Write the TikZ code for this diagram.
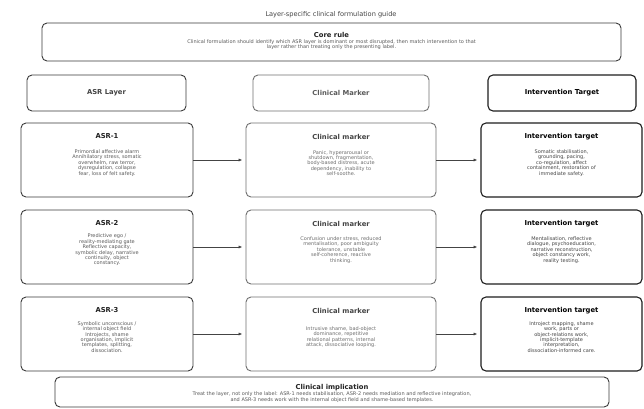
\documentclass[tikz,border=0pt]{standalone}
\usepackage{fontspec}
\setmainfont{DejaVu Sans}
\usetikzlibrary{arrows.meta,calc}

\definecolor{inkA}{HTML}{222222}
\definecolor{inkB}{HTML}{444444}
\definecolor{inkC}{HTML}{5A5A5A}
\definecolor{inkD}{HTML}{6E6E6E}
\definecolor{edgeA}{HTML}{3A3A3A}
\definecolor{edgeB}{HTML}{707070}
\definecolor{edgeC}{HTML}{1E1E1E}

\begin{document}
\begin{tikzpicture}[x=1pt,y=-1pt,
  panel/.style={draw=#1, rounded corners=5pt, line width=0.9pt,
    inner sep=0pt, outer sep=0pt},
  rowbox/.style={minimum height=74pt},
  headtext/.style={font=\fontsize{6.8}{8}\selectfont\bfseries, text=#1,
    inner sep=0pt},
  bodytext/.style={font=\fontsize{5}{5.4}\selectfont, text=#1,
    align=center, inner sep=0pt},
  conn/.style={draw=inkB, line width=0.9pt,
    -{Latex[length=4pt,width=3.2pt]}, shorten >=3.5pt}
]
\useasboundingbox (0,0) rectangle (644,408);
\fill[white] (0,0) rectangle (644,408);

% page title
\node[font=\fontsize{6.6}{8}\selectfont, text=inkB, inner sep=0pt]
  (title) at (331,15) {Layer-specific clinical formulation guide};

% core rule
\node[panel=edgeA, minimum width=579pt, minimum height=38pt] (core) at (331.5,42) {};
\node[headtext=inkA] (coreT) at ($(core.north)+(0,12)$) {Core rule};
\node[bodytext=inkC] (coreB) at ($(core.north)+(0,21.5)$)
  {Clinical formulation should identify which ASR layer is dominant or most disrupted, then match intervention to that\\
   layer rather than treating only the presenting label.};

% column headers
\node[panel=edgeA, minimum width=159pt, minimum height=36pt] (hAsr) at (106.5,93) {};
\node[panel=edgeB, minimum width=176pt, minimum height=36pt] (hCm) at (341,93) {};
\node[panel=edgeC, minimum width=148pt, minimum height=36pt, line width=1.1pt] (hIt) at (562,93) {};
\node[headtext=inkB] at (hAsr) {ASR Layer};
\node[headtext=inkC] at (hCm) {Clinical Marker};
\node[headtext=black] at (hIt) {Intervention Target};

% row 1
\node[panel=edgeA, rowbox, minimum width=172pt] (asr1) at (107,160) {};
\node[panel=edgeB, rowbox, minimum width=190pt] (cm1) at (341,160) {};
\node[panel=edgeC, rowbox, minimum width=161pt, line width=1.1pt] (it1) at (561.5,160) {};
% row 2
\node[panel=edgeA, rowbox, minimum width=172pt] (asr2) at (107,247) {};
\node[panel=edgeB, rowbox, minimum width=190pt] (cm2) at (341,247) {};
\node[panel=edgeC, rowbox, minimum width=161pt, line width=1.1pt] (it2) at (561.5,247) {};
% row 3
\node[panel=edgeA, rowbox, minimum width=172pt] (asr3) at (107,334) {};
\node[panel=edgeB, rowbox, minimum width=190pt] (cm3) at (341,334) {};
\node[panel=edgeC, rowbox, minimum width=161pt, line width=1.1pt] (it3) at (561.5,334) {};

% row texts
\node[headtext=inkA] at ($(asr1.north)+(0,13.5)$) {ASR-1};
\node[bodytext=inkC] at ($(asr1.north)+(0,40)$)
  {Primordial affective alarm\\Annihilatory stress, somatic\\overwhelm, raw terror,\\dysregulation, collapse\\fear, loss of felt safety.};
\node[headtext=inkB] at ($(cm1.north)+(0,13.5)$) {Clinical marker};
\node[bodytext=inkD] at ($(cm1.north)+(0,40)$)
  {Panic, hyperarousal or\\shutdown, fragmentation,\\body-based distress, acute\\dependency, inability to\\self-soothe.};
\node[headtext=black] at ($(it1.north)+(0,13.5)$) {Intervention target};
\node[bodytext=inkB] at ($(it1.north)+(0,40)$)
  {Somatic stabilisation,\\grounding, pacing,\\co-regulation, affect\\containment, restoration of\\immediate safety.};

\node[headtext=inkA] at ($(asr2.north)+(0,13.5)$) {ASR-2};
\node[bodytext=inkC] at ($(asr2.north)+(0,40)$)
  {Predictive ego /\\reality-mediating gate\\Reflective capacity,\\symbolic delay, narrative\\continuity, object\\constancy.};
\node[headtext=inkB] at ($(cm2.north)+(0,13.5)$) {Clinical marker};
\node[bodytext=inkD] at ($(cm2.north)+(0,40)$)
  {Confusion under stress, reduced\\mentalisation, poor ambiguity\\tolerance, unstable\\self-coherence, reactive\\thinking.};
\node[headtext=black] at ($(it2.north)+(0,13.5)$) {Intervention target};
\node[bodytext=inkB] at ($(it2.north)+(0,40)$)
  {Mentalisation, reflective\\dialogue, psychoeducation,\\narrative reconstruction,\\object constancy work,\\reality testing.};

\node[headtext=inkA] at ($(asr3.north)+(0,13.5)$) {ASR-3};
\node[bodytext=inkC] at ($(asr3.north)+(0,40)$)
  {Symbolic unconscious /\\internal object field\\Introjects, shame\\organisation, implicit\\templates, splitting,\\dissociation.};
\node[headtext=inkB] at ($(cm3.north)+(0,13.5)$) {Clinical marker};
\node[bodytext=inkD] at ($(cm3.north)+(0,40)$)
  {Intrusive shame, bad-object\\dominance, repetitive\\relational patterns, internal\\attack, dissociative looping.};
\node[headtext=black] at ($(it3.north)+(0,13.5)$) {Intervention target};
\node[bodytext=inkB] at ($(it3.north)+(0,40)$)
  {Introject mapping, shame\\work, parts or\\object-relations work,\\implicit-template\\interpretation,\\dissociation-informed care.};

% connectors
\draw[conn] (asr1.east) -- (cm1.west);
\draw[conn] (cm1.east) -- (it1.west);
\draw[conn] (asr2.east) -- (cm2.west);
\draw[conn] (cm2.east) -- (it2.west);
\draw[conn] (asr3.east) -- (cm3.west);
\draw[conn] (cm3.east) -- (it3.west);

% clinical implication
\node[panel=edgeA, minimum width=554pt, minimum height=30pt] (impl) at (332,392) {};
\node[headtext=inkA] at ($(impl.north)+(0,11)$) {Clinical implication};
\node[bodytext=inkC] at ($(impl.north)+(0,20)$)
  {Treat the layer, not only the label: ASR-1 needs stabilisation, ASR-2 needs mediation and reflective integration,\\
   and ASR-3 needs work with the internal object field and shame-based templates.};
\end{tikzpicture}
\end{document}
